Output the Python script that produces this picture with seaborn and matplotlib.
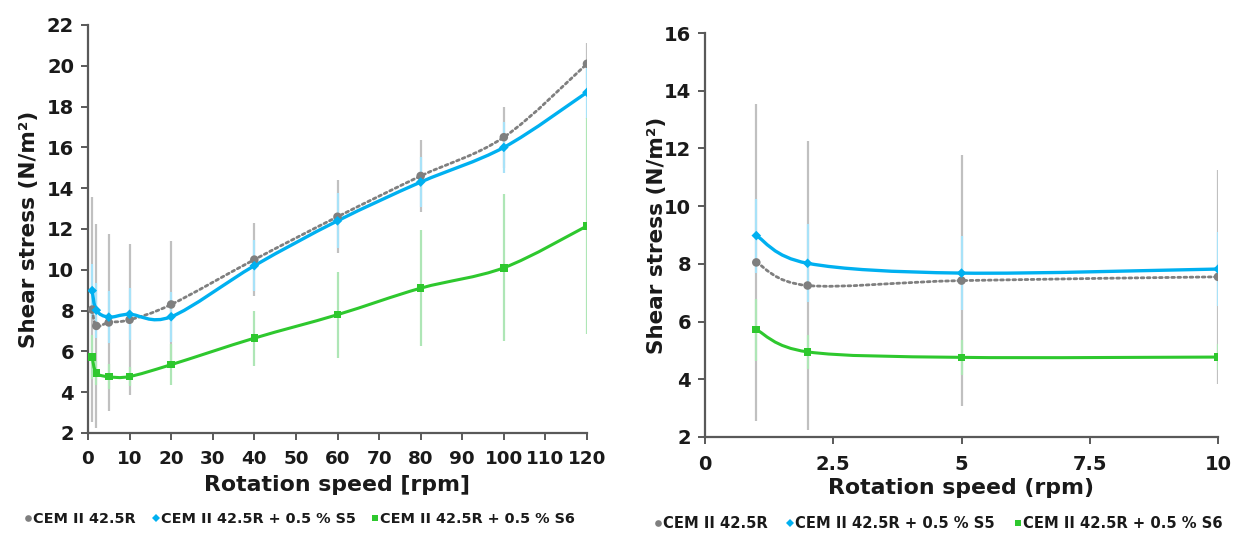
import numpy as np
import pandas as pd
import matplotlib
matplotlib.use("Agg")
import matplotlib.pyplot as plt
from matplotlib.path import Path
from matplotlib.patches import PathPatch
from matplotlib.lines import Line2D
import seaborn as sns

# ---- data ----
speed = [1, 2, 5, 10, 20, 40, 60, 80, 100, 120]
series_names = ["CEM II 42.5R", "CEM II 42.5R + 0.5 % S5", "CEM II 42.5R + 0.5 % S6"]
cem = [8.05, 7.25, 7.42, 7.55, 8.3, 10.5, 12.6, 14.6, 16.5, 20.1]
cem_err = [5.5, 5.0, 4.35, 3.7, 3.1, 1.8, 1.8, 1.75, 1.5, 1.0]
s5 = [8.98, 8.02, 7.68, 7.82, 7.7, 10.2, 12.4, 14.3, 16.0, 18.7]
s5_err = [1.28, 1.35, 1.28, 1.28, 1.23, 1.26, 1.35, 1.22, 1.26, 1.3]
s6 = [5.72, 4.95, 4.76, 4.77, 5.35, 6.65, 7.8, 9.1, 10.1, 12.15]
s6_err = [1.07, 0.6, 0.6, 0.45, 1.0, 1.35, 2.1, 2.85, 3.6, 5.3]
n_low = 4  # right panel shows the first four speeds

left_xticks = list(range(0, 121, 10))
left_yticks = list(range(2, 23, 2))
right_xticks = [0, 2.5, 5, 7.5, 10]
right_xticklabels = ["0", "2.5", "5", "7.5", "10"]
right_yticks = list(range(2, 17, 2))

# ---- styles ----
line_cols = ["#7f7f7f", "#00b0f0", "#2ec82e"]
err_cols = ["#c0c0c0", "#a8e2f8", "#aee6b6"]
markers = ["o", "D", "s"]
msizes = [38, 24, 30]
lstyles = [(0, (1.0, 1.2)), "-", "-"]
lwidths = [2.0, 2.4, 2.2]

sns.set_theme(style="white")
plt.rcParams["font.family"] = ["DejaVu Sans"]
plt.rcParams["font.weight"] = "bold"

fig = plt.figure(figsize=(12.35, 5.34), dpi=100)
axL = fig.add_axes([88 / 1235, 1 - 433 / 534, (587 - 88) / 1235, (433 - 25) / 534])
axR = fig.add_axes([705 / 1235, 1 - 437 / 534, (1218 - 705) / 1235, (437 - 33) / 534])


def smooth_path(xs, ys):
    """Excel-style smoothed line: cubic Bezier segments through the data points."""
    pts = np.column_stack([xs, ys]).astype(float)
    n = len(pts)
    verts = [pts[0]]
    codes = [Path.MOVETO]
    for i in range(n - 1):
        p0 = pts[i - 1] if i > 0 else pts[i]
        p1 = pts[i]
        p2 = pts[i + 1]
        p3 = pts[i + 2] if i + 2 < n else pts[i + 1]
        c1 = p1 + (p2 - p0) / 6.0
        c2 = p2 - (p3 - p1) / 6.0
        verts += [c1, c2, p2]
        codes += [Path.CURVE4] * 3
    return Path(verts, codes)


def draw(ax, npts):
    ys_all = [cem, s5, s6]
    errs_all = [cem_err, s5_err, s6_err]
    for k in range(3):
        xs = speed[:npts]
        ys = ys_all[k][:npts]
        er = errs_all[k][:npts]
        ax.errorbar(xs, ys, yerr=er, fmt="none", ecolor=err_cols[k],
                    elinewidth=1.6, capsize=0, zorder=1 + k * 0.1)
    for k in range(3):
        xs = speed[:npts]
        ys = ys_all[k][:npts]
        patch = PathPatch(smooth_path(xs, ys), fill=False, edgecolor=line_cols[k],
                          lw=lwidths[k], linestyle=lstyles[k], zorder=3 + k * 0.1,
                          capstyle="round")
        ax.add_patch(patch)
        df = pd.DataFrame({"x": xs, "y": ys})
        sns.scatterplot(data=df, x="x", y="y", ax=ax, marker=markers[k], s=msizes[k],
                        color=line_cols[k], edgecolor="none", zorder=4 + k * 0.1,
                        legend=False)


draw(axL, len(speed))
draw(axR, n_low)

spine_col = "#595959"
text_col = "#1a1a1a"
for ax in (axL, axR):
    for sp in ["top", "right"]:
        ax.spines[sp].set_visible(False)
    for sp in ["left", "bottom"]:
        ax.spines[sp].set_color(spine_col)
        ax.spines[sp].set_linewidth(1.6)
    ax.tick_params(axis="both", direction="out", length=5, width=1.4, color=spine_col,
                   labelsize=14, labelcolor=text_col, bottom=True, left=True)
    ax.grid(False)

axL.set_xlim(0, 120)
axL.set_ylim(2, 22)
axL.set_xticks(left_xticks)
axL.set_yticks(left_yticks)
axL.tick_params(axis="x", pad=7, labelsize=13.2)
axL.tick_params(axis="y", pad=5)

axR.set_xlim(0, 10)
axR.set_ylim(2, 16)
axR.set_xticks(right_xticks)
axR.set_xticklabels(right_xticklabels)
axR.set_yticks(right_yticks)
axR.tick_params(axis="x", pad=8)
axR.tick_params(axis="y", pad=5)
for ax in (axL, axR):
    for lab in ax.get_xticklabels() + ax.get_yticklabels():
        lab.set_fontweight("bold")

axL.set_xlabel("Rotation speed [rpm]", fontsize=15.8, fontweight="bold", color=text_col, labelpad=5)
axL.set_ylabel("Shear stress (N/m²)", fontsize=15.5, fontweight="bold", color=text_col, labelpad=6)
axR.set_xlabel("Rotation speed (rpm)", fontsize=15.8, fontweight="bold", color=text_col, labelpad=3)
axR.set_ylabel("Shear stress (N/m²)", fontsize=15.5, fontweight="bold", color=text_col, labelpad=-2)

handles = [Line2D([], [], linestyle="none", marker=markers[k], color=line_cols[k],
                  markersize=[4.8, 4.3, 4.3][k], markeredgewidth=0) for k in range(3)]
legkw = dict(ncol=3, frameon=False, handlelength=0.5, handletextpad=0.1,
             borderaxespad=0)
legL = fig.legend(handles, series_names, loc="center left", columnspacing=1.1,
                  prop={"size": 10.4, "weight": "bold"},
                  bbox_to_anchor=(19 / 1235, 1 - 519 / 534), **legkw)
legR = fig.legend(handles, series_names, loc="center left", columnspacing=1.3,
                  prop={"size": 10.6, "weight": "bold"},
                  bbox_to_anchor=(648 / 1235, 1 - 524 / 534), **legkw)
for leg in (legL, legR):
    for t in leg.get_texts():
        t.set_color(text_col)

fig.savefig("out.png", dpi=100, facecolor="white")
